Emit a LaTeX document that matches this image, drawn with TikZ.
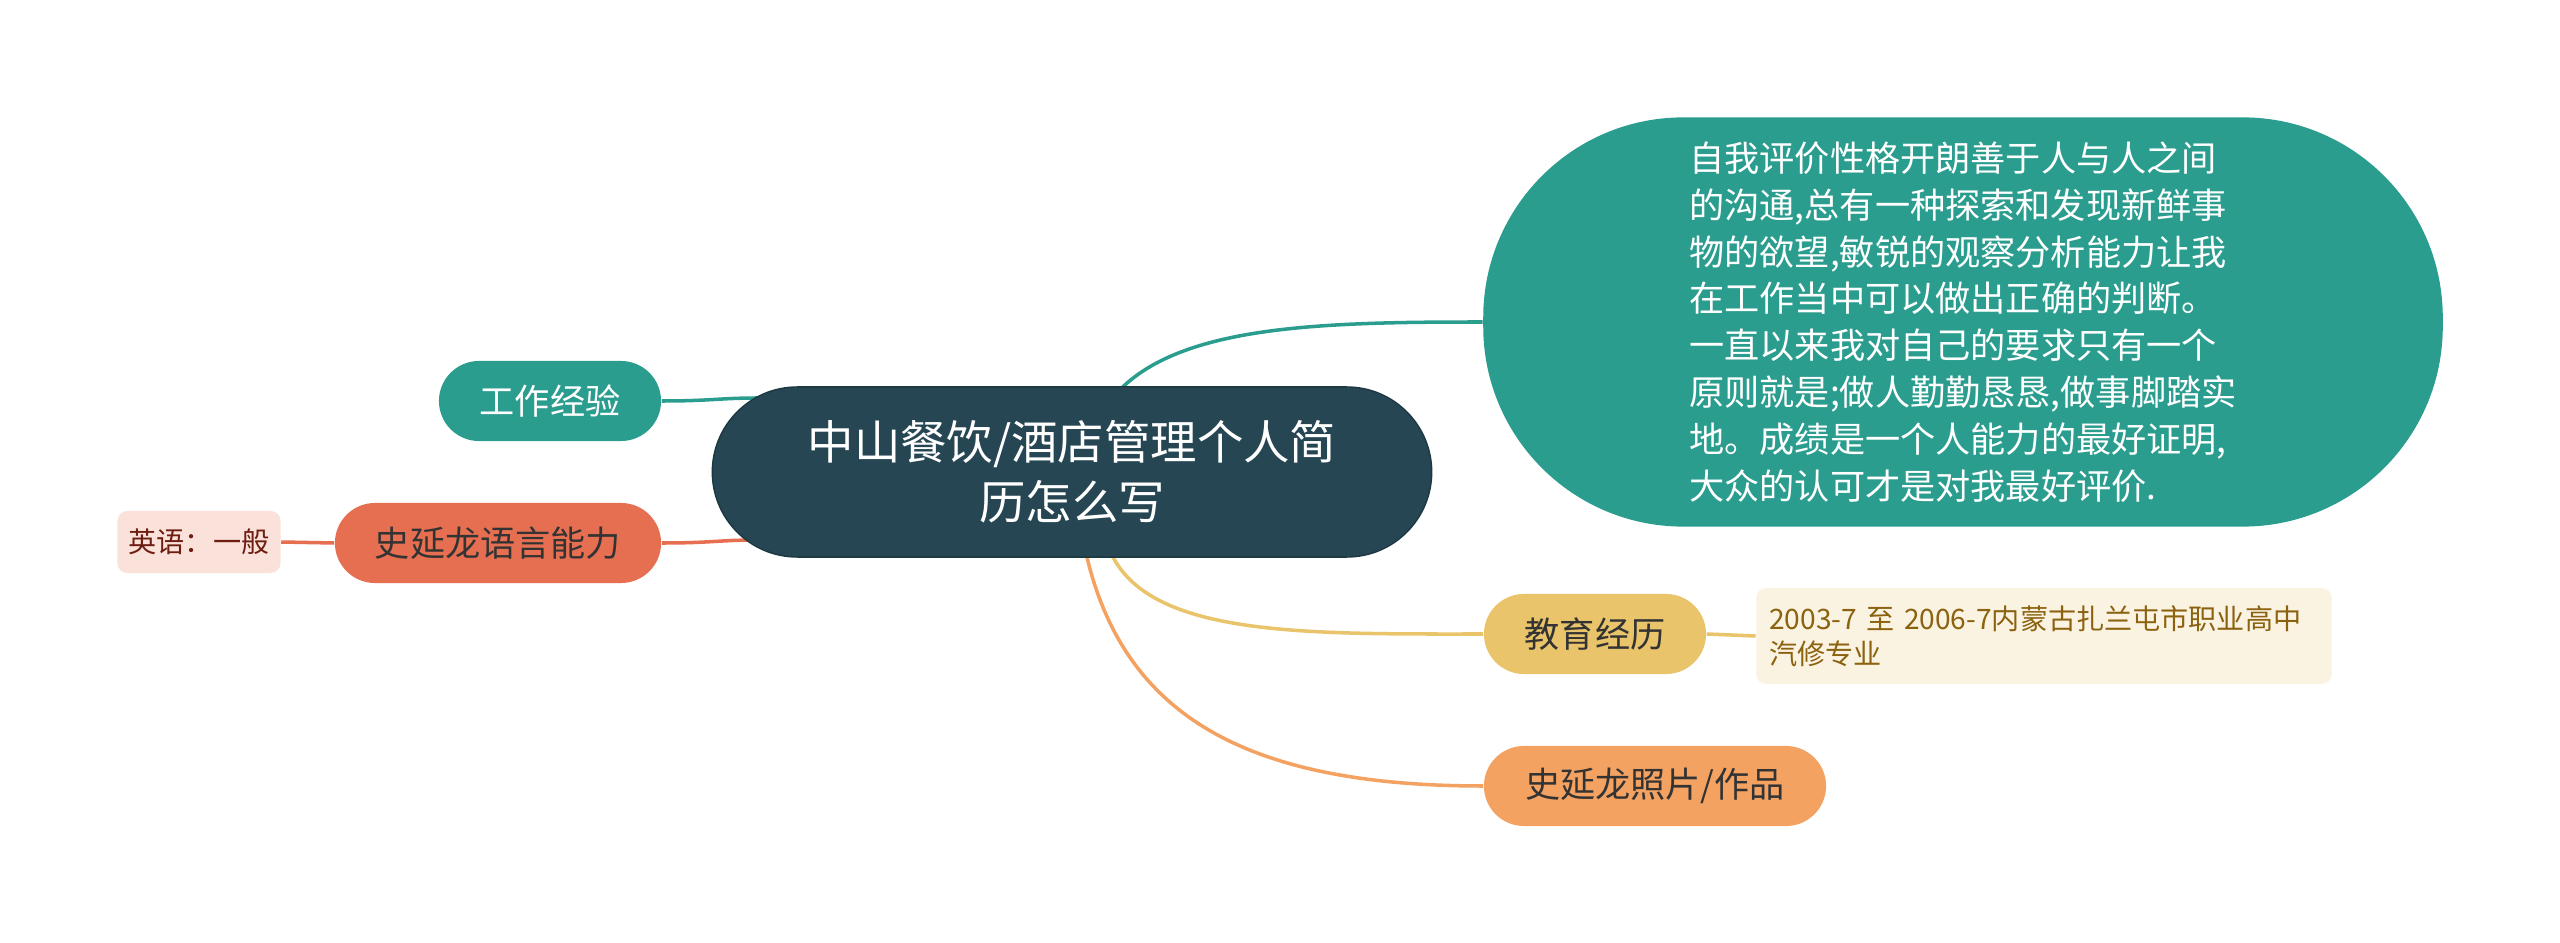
\documentclass[tikz,border=0pt]{standalone}
\usepackage{fontspec}
\setmainfont{Noto Sans CJK SC}
\usepackage{xcolor}
\usetikzlibrary{calc,backgrounds}

\definecolor{slate}{HTML}{264653}
\definecolor{sea}{HTML}{2A9D8F}
\definecolor{sand}{HTML}{E9C46A}
\definecolor{peach}{HTML}{F4A261}
\definecolor{coral}{HTML}{E76F51}
\definecolor{blush}{HTML}{FAE2DB}
\definecolor{cream}{HTML}{FBF3E1}
\definecolor{rust}{HTML}{6E1E10}
\definecolor{ochre}{HTML}{8B6210}

\begin{document}
\begin{tikzpicture}[x=0.01cm,y=-0.01cm,
    link/.style={line width=1pt},
    topic/.style={rectangle,rounded corners=0.4cm,minimum height=0.8cm,inner sep=0pt,
      font=\fontsize{10pt}{12pt}\selectfont},
    leaf/.style={rectangle,rounded corners=0.1cm,inner sep=0pt,
      font=\fontsize{8pt}{10pt}\selectfont}]
      % Frame
      \useasboundingbox (0,0) rectangle (2560,943);

      % Central topic
      \node[fill=slate,draw=slate!80!black,text=white,rounded corners=0.85cm,
        minimum width=7.19cm,minimum height=1.7cm,align=center,
        font=\fontsize{13.2pt}{17pt}\selectfont] (title) at (1072,472)
        {中山餐饮/酒店管理个人简\\历怎么写};

      % Self evaluation
      \node[fill=sea,text=white,rounded corners=2cm,minimum width=9.59cm,
        minimum height=4.09cm,align=left,
        font=\fontsize{10pt}{13.3pt}\selectfont] (eval) at (1963,322)
        {自我评价性格开朗善于人与人之间\\的沟通,总有一种探索和发现新鲜事\\物的欲望,敏锐的观察分析能力让我\\在工作当中可以做出正确的判断。\\一直以来我对自己的要求只有一个\\原则就是;做人勤勤恳恳,做事脚踏实\\地。成绩是一个人能力的最好证明,\\大众的认可才是对我最好评价.};

      % Left branches
      \node[topic,fill=sea,text=white,minimum width=2.22cm] (work) at (550,401) {工作经验};
      \node[topic,fill=coral,text=black!80,minimum width=3.26cm] (lang) at (498,543) {史延龙语言能力};
      \node[leaf,fill=blush,text=rust,minimum width=1.63cm,minimum height=0.62cm] (eng) at (199,542) {英语：一般};

      % Right branches
      \node[topic,fill=sand,text=black!80,minimum width=2.22cm] (edu) at (1595,634) {教育经历};
      \node[leaf,fill=cream,text=ochre,text width=5.49cm,inner xsep=0.13cm,
        minimum height=0.96cm,align=left] (detail) at (2044,636)
        {2003-7 至 2006-7内蒙古扎兰屯市职业高中\\汽修专业};
      \node[topic,fill=peach,text=black!80,minimum width=3.42cm] (photo) at (1655,786) {史延龙照片/作品};

      % Links
      \begin{scope}[on background layer]
          \fill[white] (0,0) rectangle (2560,943);
          \draw[link,sea] (work.east) .. controls +(50,0) and +(-40,0) .. ($(title.west)+(47,-74)$);
          \draw[link,coral] (lang.east) .. controls +(50,0) and +(-40,0) .. ($(title.west)+(47,68)$);
          \draw[link,coral] (eng.east) -- (lang.west);
          \draw[link,sea] ($(title.north)+(28,30)$) .. controls +(50,-90) and +(-180,0) .. (eval.west);
          \draw[link,sand] ($(title.south)+(30,-40)$) .. controls +(10,120) and +(-200,0) .. (edu.west);
          \draw[link,peach] ($(title.south)+(9,-30)$) .. controls +(30,180) and +(-250,0) .. (photo.west);
          \draw[link,sand] (edu.east) -- (detail.west);
      \end{scope}

  \end{tikzpicture}
\end{document}
